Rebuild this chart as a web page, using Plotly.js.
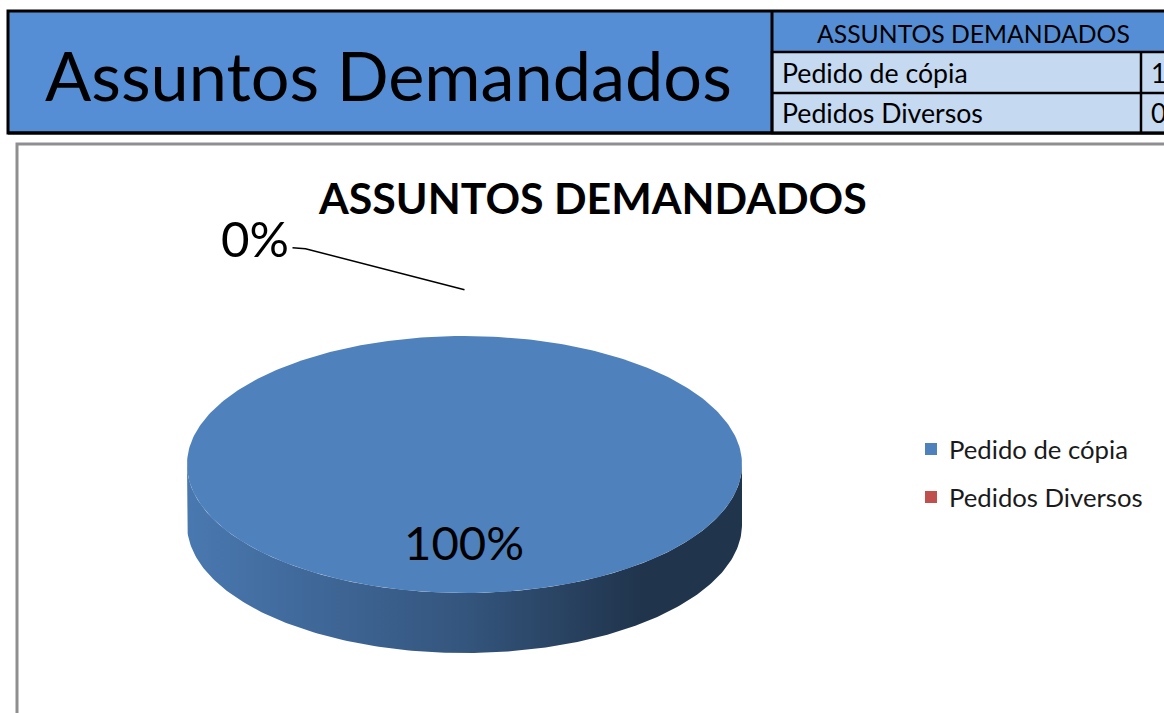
<!DOCTYPE html>
<html><head><meta charset="utf-8">
<script src="https://cdn.plot.ly/plotly-3.0.1.min.js"></script>
<style>html,body{margin:0;padding:0;background:#fff;overflow:hidden}#chart{width:1164px;height:713px}</style>
</head><body><div id="chart"></div>
<script>
// ---- data ----
const headerTitle = 'Assuntos Demandados';
const tableTitle = 'ASSUNTOS DEMANDADOS';
const chartTitle = 'ASSUNTOS DEMANDADOS';
const categories = ['Pedido de cópia', 'Pedidos Diversos'];
const values = [1, 0];
const sliceColors = ['#4F81BD', '#C0504D'];

// ---- helpers ----
const W = 1164, H = 713;
const FAM = 'Lato, "Noto Sans", sans-serif';
const ctx = document.createElement('canvas').getContext('2d');
function fit(text, width, weight) {
  ctx.font = (weight || 'normal') + ' 100px Lato';
  return 100 * width / ctx.measureText(text).width;
}
function shade(hex, f) {
  const n = parseInt(hex.slice(1), 16);
  const r = Math.round(((n >> 16) & 255) * f), g = Math.round(((n >> 8) & 255) * f), b = Math.round((n & 255) * f);
  return 'rgb(' + r + ',' + g + ',' + b + ')';
}
const rad = d => d * Math.PI / 180;

const shapes = [], annotations = [], traces = [];

// ---- spreadsheet header ----
shapes.push({type:'rect', xref:'x', yref:'y', x0:8, x1:1180, y0:11, y1:133, fillcolor:'#558ED5', line:{color:'#000', width:3}, layer:'below'});
shapes.push({type:'rect', xref:'x', yref:'y', x0:772, x1:1180, y0:52, y1:133, fillcolor:'#C5D9F1', line:{color:'#000', width:2.5}, layer:'below'});
shapes.push({type:'line', xref:'x', yref:'y', x0:772, x1:1180, y0:93, y1:93, line:{color:'#000', width:2.5}, layer:'below'});
shapes.push({type:'line', xref:'x', yref:'y', x0:1141, x1:1141, y0:52, y1:133, line:{color:'#000', width:2.5}, layer:'below'});
shapes.push({type:'line', xref:'x', yref:'y', x0:772, x1:772, y0:11, y1:133, line:{color:'#000', width:3}, layer:'below'});
shapes.push({type:'line', xref:'x', yref:'y', x0:8, x1:1180, y0:133, y1:133, line:{color:'#000', width:3}, layer:'below'});

annotations.push({xref:'x', yref:'y', x:388, y:74, xanchor:'center', yanchor:'middle', showarrow:false,
  text:headerTitle, font:{family:FAM, size:fit(headerTitle, 687), color:'#000'}});
annotations.push({xref:'x', yref:'y', x:973, y:33, xanchor:'center', yanchor:'middle', showarrow:false,
  text:tableTitle, font:{family:FAM, size:fit(tableTitle, 313), color:'#000'}});
const rowSize = fit(categories[1], 201);
const rowY = [73, 113];
categories.forEach((c, i) => {
  annotations.push({xref:'x', yref:'y', x:780, y:rowY[i], xanchor:'left', yanchor:'middle', showarrow:false,
    text:c, font:{family:FAM, size:rowSize, color:'#000'}});
  annotations.push({xref:'x', yref:'y', x:1149, y:rowY[i], xanchor:'left', yanchor:'middle', showarrow:false,
    text:String(values[i]), font:{family:FAM, size:rowSize, color:'#000'}});
});

// ---- chart area ----
shapes.push({type:'rect', xref:'x', yref:'y', x0:17, x1:1190, y0:144, y1:740, fillcolor:'#fff', line:{color:'#8f8f8f', width:3}, layer:'below'});
annotations.push({xref:'x', yref:'y', x:592, y:197, xanchor:'center', yanchor:'middle', showarrow:false,
  text:'<b>' + chartTitle + '</b>', font:{family:FAM, size:fit(chartTitle, 548, 'bold'), color:'#000'}});

// ---- 3D pie ----
const cx = 464.5, cy = 464.5, rx = 277.5, ry = 128.5, depth = 60;
const total = values.reduce((a, b) => a + b, 0);
const pt = (a, k, dy) => [cx + k * rx * Math.sin(rad(a)), cy - k * ry * Math.cos(rad(a)) + (dy || 0)];
function arc(a0, a1, k, dy) {
  const out = [], n = Math.max(2, Math.ceil(Math.abs(a1 - a0)));
  for (let j = 0; j <= n; j++) out.push(pt(a0 + (a1 - a0) * j / n, k, dy));
  return out;
}
let cum = 0;
const slices = values.map((v, i) => {
  const a0 = cum / total * 360; cum += v; const a1 = cum / total * 360;
  return {i, v, a0, a1, frac: v / total};
});
// sides first
slices.forEach(s => {
  const lo = Math.max(s.a0, 90), hi = Math.min(s.a1, 270);
  if (s.v > 0 && hi > lo) {
    const pts = arc(lo, hi, 1, 0).concat(arc(hi, lo, 1, depth));
    const c = sliceColors[s.i];
    traces.push({type:'scatter', mode:'lines', x:pts.map(p => p[0]), y:pts.map(p => p[1]), fill:'toself',
      line:{width:0}, fillgradient:{type:'horizontal', colorscale:[[0, shade(c, 0.93)], [0.5, shade(c, 0.66)], [0.82, shade(c, 0.4)], [1, shade(c, 0.4)]]},
      hoverinfo:'skip', showlegend:false});
  }
});
// top faces
slices.forEach(s => {
  if (s.v <= 0) return;
  let pts = arc(s.a0, s.a1, 1, 0);
  if (s.a1 - s.a0 < 360) pts = [[cx, cy]].concat(pts).concat([[cx, cy]]);
  traces.push({type:'scatter', mode:'lines', x:pts.map(p => p[0]), y:pts.map(p => p[1]), fill:'toself',
    fillcolor:sliceColors[s.i], line:{width:0}, hoverinfo:'skip', showlegend:false});
});
// labels
slices.forEach(s => {
  const mid = (s.a0 + s.a1) / 2;
  const txt = Math.round(s.frac * 100) + '%';
  if (s.frac >= 0.05) {
    const p = pt(mid, 0.6, 0);
    annotations.push({xref:'x', yref:'y', x:p[0] - 1, y:p[1], xanchor:'center', yanchor:'middle', showarrow:false,
      text:txt, font:{family:FAM, size:fit('100%', 120), color:'#000'}});
  } else {
    const e = pt(mid, 1.36, 0);
    const elbow = [e[0] - 159, e[1] - 41], tail = [e[0] - 172, e[1] - 42];
    traces.push({type:'scatter', mode:'lines', x:[e[0], elbow[0], tail[0]], y:[e[1], elbow[1], tail[1]],
      line:{color:'#000', width:1.5}, hoverinfo:'skip', showlegend:false});
    annotations.push({xref:'x', yref:'y', x:tail[0] - 2, y:tail[1] - 10, xanchor:'right', yanchor:'middle', showarrow:false,
      text:txt, font:{family:FAM, size:fit('0%', 68), color:'#000'}});
  }
});

// ---- legend ----
const legY = [449, 497];
traces.push({type:'scatter', mode:'markers', x:categories.map(() => 931), y:legY,
  marker:{symbol:'square', size:12, color:sliceColors}, hoverinfo:'skip', showlegend:false});
const legSize = fit(categories[0], 179);
categories.forEach((c, i) => {
  annotations.push({xref:'x', yref:'y', x:947, y:legY[i], xanchor:'left', yanchor:'middle', showarrow:false,
    text:c, font:{family:FAM, size:legSize, color:'#1a1a1a'}});
});

Plotly.newPlot('chart', traces, {
  width: W, height: H, margin:{l:0, r:0, t:0, b:0, pad:0},
  paper_bgcolor:'#fff', plot_bgcolor:'rgba(0,0,0,0)',
  xaxis:{range:[0, W], visible:false, fixedrange:true},
  yaxis:{range:[H, 0], visible:false, fixedrange:true},
  shapes, annotations, hovermode:false, showlegend:false
}, {staticPlot:true, displayModeBar:false});
</script></body></html>
